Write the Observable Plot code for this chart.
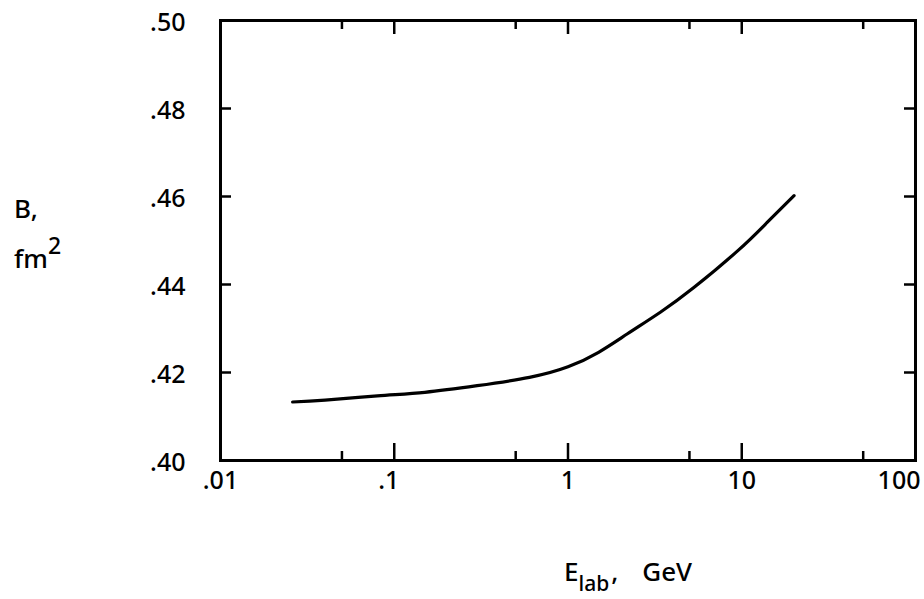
<!DOCTYPE html>
<html><head><meta charset="utf-8">
<script src="https://cdn.jsdelivr.net/npm/d3@7"></script>
<script src="https://cdn.jsdelivr.net/npm/@observablehq/plot@0.6"></script>
<style>
body{margin:0;background:#fff;}
#wrap{position:relative;width:924px;height:599px;font-family:"Noto Sans","Open Sans","DejaVu Sans",sans-serif;font-stretch:condensed;color:#000;}
#wrap text{font-stretch:condensed;}
.lbl{position:absolute;font-size:26px;line-height:26px;white-space:pre;font-weight:500;}
#wrap svg{display:block;}
</style></head><body>
<div id="wrap"></div>
<script>
// curve
const energyGeV = [0.026, 0.04, 0.08, 0.15, 0.3, 0.6, 1.0, 1.5, 2.2, 3.4, 5.3, 9.5, 14, 20];
const bFm2 = [0.4133, 0.4137, 0.4147, 0.4155, 0.4170, 0.4189, 0.4213, 0.4246, 0.4288, 0.4337, 0.4393, 0.4477, 0.4541, 0.4602];

const xMajorTicks = [0.01, 0.1, 1, 10, 100];
const xMajorLabels = [".01", ".1", "1", "10", "100"];
const xMinorTicks = [0.05, 0.5, 5, 50];
const yTicks = [0.40, 0.42, 0.44, 0.46, 0.48, 0.50];
const yTickLabels = [".40", ".42", ".44", ".46", ".48", ".50"];

const data = energyGeV.map((e, i) => ({e, b: bFm2[i]}));
const xLab = new Map(xMajorTicks.map((v, i) => [v, xMajorLabels[i]]));
const yLab = new Map(yTicks.map((v, i) => [v, yTickLabels[i]]));

const W = 924, H = 599, mL = 220, mR = 9, mT = 20, mB = 139;
const fw = W - mL - mR, fh = H - mT - mB;
const ink = "#000";

const chart = Plot.plot({
  width: W, height: H,
  marginLeft: mL, marginRight: mR, marginTop: mT, marginBottom: mB,
  x: {type: "log", domain: [0.01, 100], axis: null},
  y: {domain: [0.40, 0.50], axis: null},
  style: {fontFamily: '"Noto Sans","Open Sans","DejaVu Sans",sans-serif', fontSize: "25px", fontWeight: 500, color: ink, background: "#fff"},
  marks: [
    // inward ticks
    Plot.tickX(xMajorTicks.slice(1, -1), {x: d => d, insetTop: fh - 17, stroke: ink, strokeWidth: 2.5}),
    Plot.tickX(xMinorTicks, {x: d => d, insetTop: fh - 9, stroke: ink, strokeWidth: 2.5}),
    Plot.tickX(xMajorTicks.slice(1, -1), {x: d => d, insetBottom: fh - 14, stroke: ink, strokeWidth: 2.5}),
    Plot.tickX(xMinorTicks, {x: d => d, insetBottom: fh - 9, stroke: ink, strokeWidth: 2.5}),
    Plot.tickY(yTicks.slice(1, -1), {y: d => d, insetRight: fw - 11, stroke: ink, strokeWidth: 2.5}),
    Plot.tickY(yTicks.slice(1, -1), {y: d => d, insetLeft: fw - 11, stroke: ink, strokeWidth: 2.5}),
    Plot.frame({stroke: ink, strokeWidth: 3}),
    // curve
    Plot.line(data, {x: "e", y: "b", curve: "natural", stroke: ink, strokeWidth: 3.2, strokeLinecap: "round"}),
    // y tick labels
    Plot.text(yTicks, {y: d => d, text: d => yLab.get(d), frameAnchor: "left", textAnchor: "end", dx: -35, dy: 2, fill: ink, style: "letter-spacing:2px"}),
    // x tick labels
    Plot.text([xMajorTicks[0], xMajorTicks[2], xMajorTicks[3]], {x: d => d, text: d => xLab.get(d), frameAnchor: "bottom", dy: 28, fill: ink}),
    Plot.text([xMajorTicks[1]], {x: d => d, text: d => xLab.get(d), frameAnchor: "bottom", dy: 28, dx: 5, textAnchor: "end", fill: ink}),
    Plot.text([xMajorTicks[4]], {x: d => d, text: d => xLab.get(d), frameAnchor: "bottom", dy: 28, dx: 5, textAnchor: "end", fill: ink})
  ]
});

const wrap = document.getElementById("wrap");
wrap.appendChild(chart);
wrap.insertAdjacentHTML("beforeend",
  '<div class="lbl" style="left:14px;top:195px">B,</div>' +
  '<div class="lbl" style="left:14px;top:245px">fm<span style="position:relative;top:-14px;font-size:23px">2</span></div>' +
  '<div class="lbl" style="left:564px;top:558px">E<span style="position:relative;top:10px;font-size:21px">lab</span><span style="margin-left:2px">,</span><span style="margin-left:24px">GeV</span></div>'
);
</script>
</body></html>
